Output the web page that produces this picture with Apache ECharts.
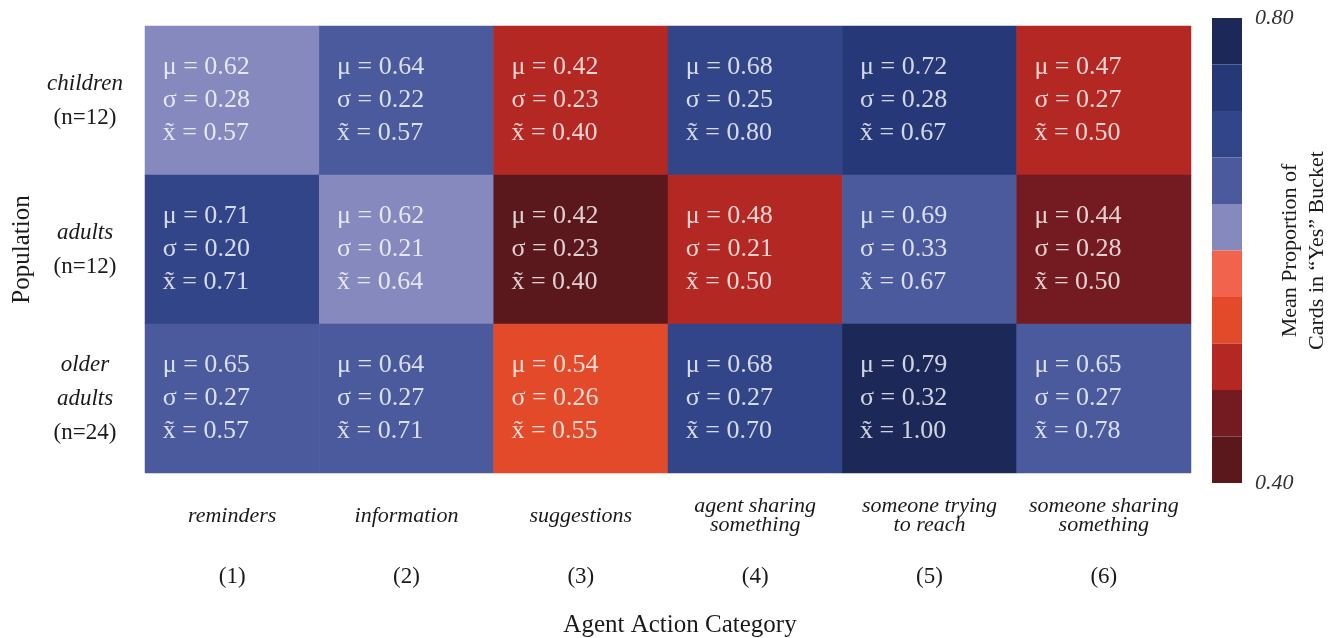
<!DOCTYPE html>
<html>
<head>
<meta charset="utf-8">
<script src="https://cdn.jsdelivr.net/npm/echarts@6/dist/echarts.min.js"></script>
<style>html,body{margin:0;padding:0;background:#fff}#c{width:1343px;height:638px}</style>
</head>
<body>
<div id="c"></div>
<script>
// ---- data ----
const colNames = ['reminders', 'information', 'suggestions', 'agent sharing\nsomething', 'someone trying\nto reach', 'someone sharing\nsomething'];
const colNumbers = ['(1)', '(2)', '(3)', '(4)', '(5)', '(6)'];
const rowNames = ['children', 'adults', 'older\nadults'];
const rowSizes = ['(n=12)', '(n=12)', '(n=24)'];
// mean, sd, median per row (population) across categories
const meanChildren = [0.62, 0.64, 0.42, 0.68, 0.72, 0.47];
const meanAdults   = [0.71, 0.62, 0.42, 0.48, 0.69, 0.44];
const meanOlder    = [0.65, 0.64, 0.54, 0.68, 0.79, 0.65];
const sdChildren = [0.28, 0.22, 0.23, 0.25, 0.28, 0.27];
const sdAdults   = [0.20, 0.21, 0.23, 0.21, 0.33, 0.28];
const sdOlder    = [0.27, 0.27, 0.26, 0.27, 0.32, 0.27];
const medChildren = [0.57, 0.57, 0.40, 0.80, 0.67, 0.50];
const medAdults   = [0.71, 0.64, 0.40, 0.50, 0.67, 0.50];
const medOlder    = [0.57, 0.71, 0.55, 0.70, 1.00, 0.78];
// shade level of each cell
const shadeChildren = [0.62, 0.64, 0.49, 0.68, 0.72, 0.49];
const shadeAdults   = [0.71, 0.62, 0.42, 0.48, 0.66, 0.44];
const shadeOlder    = [0.65, 0.64, 0.54, 0.68, 0.79, 0.65];
// colour bar: bin bounds and colours (low -> high)
const binBounds = [0.40, 0.44, 0.48, 0.52, 0.56, 0.60, 0.64, 0.68, 0.72, 0.76, 0.80];
const binColors = ['#5a181d', '#731b20', '#b42824', '#e34a29', '#f1634d', '#8589bd', '#4a5a9c', '#334589', '#263877', '#1b2858'];
const barTicks = [0.40, 0.80];

const means = [meanChildren, meanAdults, meanOlder];
const sds = [sdChildren, sdAdults, sdOlder];
const meds = [medChildren, medAdults, medOlder];
const shades = [shadeChildren, shadeAdults, shadeOlder];

const data = [];
for (let r = 0; r < rowNames.length; r++) {
  for (let c = 0; c < colNames.length; c++) {
    data.push([c, r, shades[r][c], means[r][c], sds[r][c], meds[r][c]]);
  }
}
const pieces = [];
for (let i = binColors.length - 1; i >= 0; i--) {
  pieces.push({ gte: binBounds[i], lt: binBounds[i + 1], color: binColors[i] });
}
pieces[0].lte = pieces[0].lt; delete pieces[0].lt;

const SERIF = '"Liberation Serif", "DejaVu Serif", serif';
const chart = echarts.init(document.getElementById('c'), null, { renderer: 'canvas' });
chart.setOption({
  backgroundColor: '#ffffff',
  animation: false,
  grid: [
    { left: 145, right: 152, top: 26, bottom: 165, outerBoundsMode: 'none', containLabel: false },
    { left: 1212, width: 30, top: 18, height: 465, outerBoundsMode: 'none', containLabel: false }
  ],
  xAxis: [
    {
      type: 'category', gridIndex: 0, data: colNames, position: 'bottom',
      axisLine: { show: false }, axisTick: { show: false }, splitLine: { show: false },
      axisLabel: { interval: 0, margin: 43, verticalAlign: 'middle', fontFamily: SERIF, fontStyle: 'italic',
        fontSize: 22, lineHeight: 19, color: '#1a1a1a' }
    },
    {
      type: 'category', gridIndex: 0, data: colNumbers, position: 'bottom',
      axisLine: { show: false }, axisTick: { show: false }, splitLine: { show: false },
      axisLabel: { interval: 0, margin: 104, verticalAlign: 'middle', fontFamily: SERIF, fontSize: 23, color: '#1a1a1a' },
      name: 'Agent Action Category', nameLocation: 'middle', nameGap: 140, nameMoveOverlap: false,
      nameTextStyle: { fontFamily: SERIF, fontSize: 25, color: '#1a1a1a', padding: [0, 0, 0, 24] }
    },
    { type: 'value', gridIndex: 1, show: false, min: 0, max: 1 }
  ],
  yAxis: [
    {
      type: 'category', gridIndex: 0, data: rowNames, inverse: true,
      axisLine: { show: false }, axisTick: { show: false }, splitLine: { show: false },
      axisLabel: {
        margin: 60, align: 'center',
        formatter: function (v, i) {
          return v.split('\n').map(s => '{i|' + s + '}').join('\n') + '\n{n|' + rowSizes[i] + '}';
        },
        rich: {
          i: { fontFamily: SERIF, fontStyle: 'italic', fontSize: 23, lineHeight: 34, color: '#1a1a1a' },
          n: { fontFamily: SERIF, fontSize: 23, lineHeight: 34, color: '#1a1a1a' }
        }
      },
      name: 'Population', nameLocation: 'middle', nameGap: 110, nameMoveOverlap: false,
      nameTextStyle: { fontFamily: SERIF, fontSize: 25, color: '#1a1a1a' }
    },
    {
      type: 'value', gridIndex: 1, position: 'right', min: barTicks[0], max: barTicks[1],
      interval: barTicks[1] - barTicks[0],
      axisLine: { show: false }, axisTick: { show: false }, splitLine: { show: false },
      axisLabel: { margin: 13, fontFamily: SERIF, fontStyle: 'italic', fontSize: 22, color: '#333',
        formatter: v => v.toFixed(2) },
      name: 'Mean Proportion of\nCards in \u201cYes\u201d Bucket', nameLocation: 'middle', nameGap: 35,
      nameMoveOverlap: false,
      nameTextStyle: { fontFamily: SERIF, fontSize: 22, lineHeight: 27, color: '#1a1a1a' }
    }
  ],
  visualMap: {
    type: 'piecewise', dimension: 2, pieces: pieces, seriesIndex: 0,
    orient: 'vertical', left: 1212, top: 18, padding: 0, itemWidth: 30, itemHeight: 46.5, itemGap: 0,
    itemSymbol: 'rect', showLabel: false, selectedMode: false, hoverLink: false,
    textStyle: { color: 'transparent' }
  },
  series: [{
    type: 'heatmap', xAxisIndex: 0, yAxisIndex: 0, data: data,
    label: {
      show: true, position: 'insideLeft', distance: 18,
      fontFamily: SERIF, fontSize: 26, lineHeight: 33, color: 'rgba(255,255,255,0.8)',
      formatter: function (p) {
        return '\u03bc = ' + p.value[3].toFixed(2) + '\n\u03c3 = ' + p.value[4].toFixed(2) + '\nx\u0303 = ' + p.value[5].toFixed(2);
      }
    },
    emphasis: { disabled: true }
  }]
});
</script>
</body>
</html>
